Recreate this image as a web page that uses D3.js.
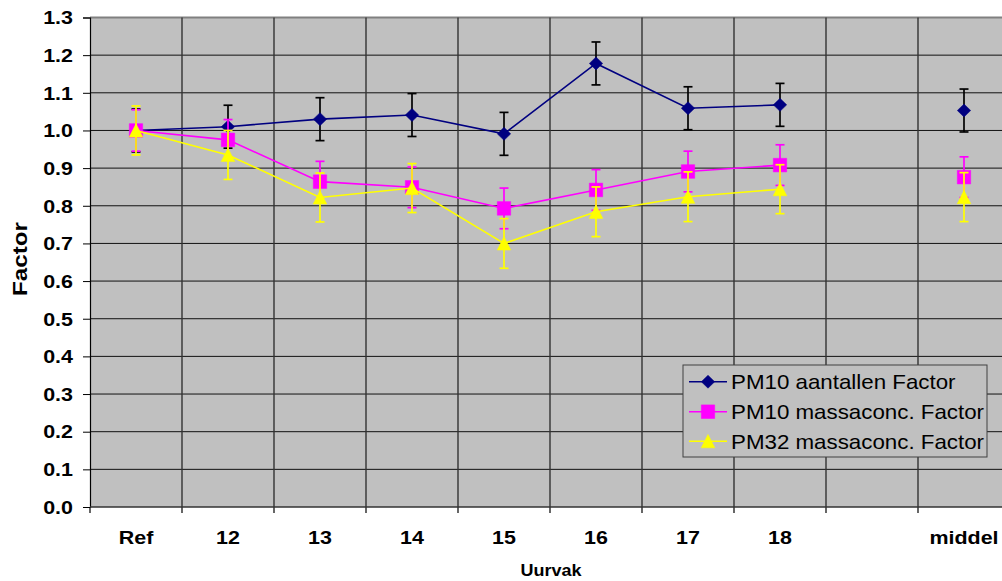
<!DOCTYPE html>
<html>
<head>
<meta charset="utf-8">
<script src="https://cdn.jsdelivr.net/npm/d3@7"></script>
<style>
  html, body { margin: 0; padding: 0; background: #fff; }
  svg { display: block; font-family: Arial, "Liberation Sans", sans-serif; }
</style>
</head>
<body>
<svg id="chart" width="1002" height="581"></svg>
<script>
// ---- data ----
const categories = ["Ref", "12", "13", "14", "15", "16", "17", "18", "", "middel"];
const yTicks = [0.0, 0.1, 0.2, 0.3, 0.4, 0.5, 0.6, 0.7, 0.8, 0.9, 1.0, 1.1, 1.2, 1.3];
const seriesNames = ["PM10 aantallen Factor", "PM10 massaconc. Factor", "PM32 massaconc. Factor"];
const pm10Aantallen = [1.000, 1.010, 1.030, 1.041, 0.991, 1.178, 1.059, 1.068, null, 1.053];
const pm10AantallenErr = [0.057, 0.057, 0.057, 0.057, 0.057, 0.057, 0.057, 0.057, null, 0.057];
const pm10Massa = [1.000, 0.975, 0.864, 0.849, 0.793, 0.842, 0.891, 0.908, null, 0.876];
const pm10MassaErr = [0.055, 0.054, 0.054, 0.054, 0.054, 0.054, 0.054, 0.054, null, 0.054];
const pm32Massa = [1.000, 0.935, 0.822, 0.847, 0.700, 0.784, 0.824, 0.844, null, 0.823];
const pm32MassaErr = [0.065, 0.065, 0.065, 0.065, 0.066, 0.066, 0.066, 0.065, null, 0.065];

const svg = d3.select("#chart");
const L = 90, R = 1010, T = 17.5, B = 507;

const x = d3.scaleBand().domain(categories.map((c, i) => i)).range([L, R]).padding(0);
const cx = i => x(i) + x.bandwidth() / 2;
const y = d3.scaleLinear().domain([0, 1.3]).range([B, T]);

// text helper with horizontal stretch
function txt(g, tx, ty, s, size, weight, anchor, sx) {
  return g.append("text")
    .attr("transform", `translate(${tx},${ty}) scale(${sx},1)`)
    .attr("text-anchor", anchor)
    .style("font-size", size + "px")
    .style("font-weight", weight)
    .attr("fill", "#000")
    .text(s);
}

// plot background
svg.append("rect").attr("x", L).attr("y", T).attr("width", R - L).attr("height", B - T)
  .attr("fill", "#C0C0C0");

// horizontal gridlines
svg.append("g").selectAll("line").data(yTicks.slice(1)).join("line")
  .attr("x1", L).attr("x2", R).attr("y1", d => y(d)).attr("y2", d => y(d))
  .attr("stroke", d => d === 1.3 ? "#808080" : "#111").attr("stroke-width", d => d === 1.3 ? 2 : 1);

// vertical gridlines at category boundaries
const bounds = categories.map((c, i) => x(i)).slice(1);
svg.append("g").selectAll("line").data(bounds).join("line")
  .attr("x1", d => d).attr("x2", d => d).attr("y1", T).attr("y2", B)
  .attr("stroke", "#333").attr("stroke-width", 1.4);

// y axis
const yAxis = d3.axisLeft(y).tickValues(yTicks).tickSize(7).tickFormat(d3.format(".1f"));
const gy = svg.append("g").attr("transform", `translate(${L},0)`).call(yAxis);
gy.select(".domain").attr("stroke", "#000").attr("stroke-width", 1.2);
gy.selectAll(".tick line").attr("stroke", "#000");
gy.selectAll(".tick text").remove();
yTicks.forEach(v => {
  txt(svg, 73, y(v) + 6.8, d3.format(".1f")(v), 19, "bold", "end", 1.13);
});

// x axis
const xAxis = d3.axisBottom(x).tickSize(6).tickFormat("");
const gx = svg.append("g").attr("transform", `translate(0,${B})`).call(xAxis);
gx.select(".domain").remove();
gx.selectAll(".tick").remove();
svg.append("g").selectAll("line").data(categories.map((c, i) => x(i))).join("line")
  .attr("x1", d => d).attr("x2", d => d).attr("y1", B).attr("y2", B + 6)
  .attr("stroke", "#000").attr("stroke-width", 1.2);
svg.append("line").attr("x1", L).attr("x2", R).attr("y1", B).attr("y2", B)
  .attr("stroke", "#333").attr("stroke-width", 1.6);
categories.forEach((c, i) => {
  if (c) txt(svg, cx(i), 544.3, c, 19, "bold", "middle", 1.13);
});

// axis titles
txt(svg, 551, 576, "Uurvak", 17, "bold", "middle", 1.06);
svg.append("text")
  .attr("transform", `translate(27,259) rotate(-90) scale(1.18,1)`)
  .attr("text-anchor", "middle")
  .style("font-size", "20.5px").style("font-weight", "bold")
  .text("Factor");

// markers
const markerPaths = {
  diamond: "M0,-6.5L6.7,0L0,6.5L-6.7,0Z",
  square: "M-6.7,-6.8H6.7V6.8H-6.7Z",
  triangle: "M0,-6.8L6.8,6.6L-6.8,6.6Z"
};

const series = [
  { name: seriesNames[0], vals: pm10Aantallen, err: pm10AantallenErr, color: "#000080", errColor: "#000", marker: "diamond" },
  { name: seriesNames[1], vals: pm10Massa, err: pm10MassaErr, color: "#FF00FF", errColor: "#FF00FF", marker: "square" },
  { name: seriesNames[2], vals: pm32Massa, err: pm32MassaErr, color: "#FFFF00", errColor: "#FFFF00", marker: "triangle" }
];

const line = d3.line().defined(d => d.v != null).x(d => cx(d.i)).y(d => y(d.v));

series.forEach(s => {
  const pts = s.vals.map((v, i) => ({ i, v, e: s.err[i] }));
  const g = svg.append("g");
  g.append("path").attr("d", line(pts)).attr("fill", "none")
    .attr("stroke", s.color).attr("stroke-width", 1.6);
  const valid = pts.filter(d => d.v != null);
  // error bars
  const eg = g.append("g").attr("stroke", s.errColor).attr("stroke-width", 1.7);
  valid.forEach(d => {
    eg.append("line").attr("x1", cx(d.i)).attr("x2", cx(d.i))
      .attr("y1", y(d.v + d.e)).attr("y2", y(d.v - d.e));
    [d.v + d.e, d.v - d.e].forEach(ev => {
      eg.append("line").attr("x1", cx(d.i) - 4.5).attr("x2", cx(d.i) + 4.5)
        .attr("y1", y(ev)).attr("y2", y(ev));
    });
  });
  // markers
  g.selectAll("path.m").data(valid).join("path").attr("class", "m")
    .attr("d", markerPaths[s.marker])
    .attr("transform", d => `translate(${cx(d.i)},${y(d.v)})`)
    .attr("fill", s.color).attr("stroke", s.color).attr("stroke-width", 0.5);
});

// legend
const lg = svg.append("g");
lg.append("rect").attr("x", 683).attr("y", 365).attr("width", 304).attr("height", 92)
  .attr("fill", "#C0C0C0").attr("stroke", "#404040").attr("stroke-width", 1);
const rowY = [381.7, 411.7, 441.2];
series.forEach((s, k) => {
  lg.append("line").attr("x1", 689).attr("x2", 727).attr("y1", rowY[k]).attr("y2", rowY[k])
    .attr("stroke", s.color).attr("stroke-width", 1.6);
  lg.append("path").attr("d", markerPaths[s.marker])
    .attr("transform", `translate(708,${rowY[k]})`)
    .attr("fill", s.color).attr("stroke", s.color).attr("stroke-width", 0.5);
  txt(lg, 731, rowY[k] + 7.5, s.name, 20.3, "normal", "start", 1.1);
});
</script>
</body>
</html>
